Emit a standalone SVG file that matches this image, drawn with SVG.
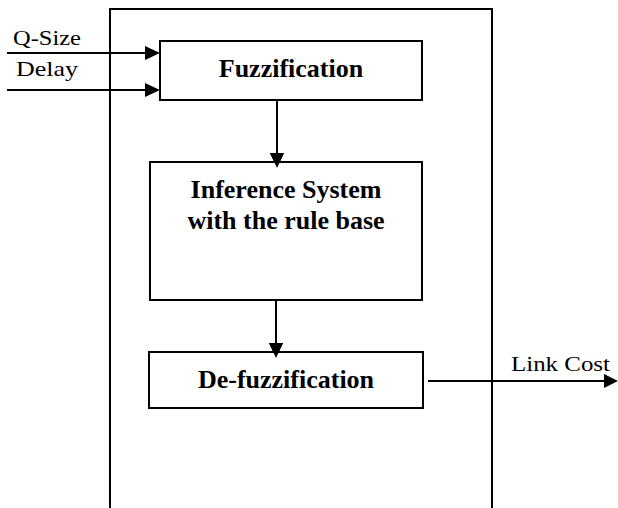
<svg xmlns="http://www.w3.org/2000/svg" width="618" height="508" viewBox="0 0 618 508">
<style>
.box{fill:#fff;stroke:#000;stroke-width:2}
.frame{fill:none;stroke:#000;stroke-width:2}
.ln{stroke:#000;stroke-width:2;fill:none}
.head{fill:#000}
.t{font-family:"Liberation Serif","Times New Roman",serif;font-weight:bold;font-size:26px;text-anchor:middle;fill:#000}
.lbl{font-family:"Liberation Serif","Times New Roman",serif;font-size:21px;fill:#000}
</style>
<rect width="618" height="508" fill="#fff"/>
<g id="frame"><path class="frame" d="M110,510 V9 H492 V510"/></g>
<g id="connectors">
<line class="ln" x1="7" y1="53" x2="150" y2="53"/>
<polygon class="head" points="160,53 145,46 145,60"/>
<line class="ln" x1="7" y1="90" x2="150" y2="90"/>
<polygon class="head" points="160,90 145,83 145,97"/>
<line class="ln" x1="277" y1="100" x2="277" y2="155"/>
<polygon class="head" points="277,168 270,153 284,153"/>
<line class="ln" x1="276" y1="300" x2="276" y2="345"/>
<polygon class="head" points="276,358 269,343 283,343"/>
<line class="ln" x1="428" y1="381" x2="606" y2="381"/>
<polygon class="head" points="618,381 604,374 604,388"/>
</g>
<g id="fuzzification">
<rect class="box" x="160" y="41" width="262" height="59"/>
<text class="t" x="291" y="77">Fuzzification</text>
</g>
<g id="inference">
<rect class="box" x="150" y="162" width="272" height="138"/>
<polygon class="head" points="277,168 270,153 284,153"/>
<text class="t" x="286" y="198">Inference System</text>
<text class="t" x="286" y="229">with the rule base</text>
</g>
<g id="defuzzification">
<rect class="box" x="149" y="352" width="274" height="56"/>
<polygon class="head" points="276,358 269,343 283,343"/>
<text class="t" x="286" y="388">De-fuzzification</text>
</g>
<g id="labels">
<text class="lbl" x="13" y="45" textLength="68" lengthAdjust="spacingAndGlyphs">Q-Size</text>
<text class="lbl" x="16" y="76" textLength="62" lengthAdjust="spacingAndGlyphs">Delay</text>
<text class="lbl" x="511" y="371" textLength="99" lengthAdjust="spacingAndGlyphs">Link Cost</text>
</g>
</svg>
